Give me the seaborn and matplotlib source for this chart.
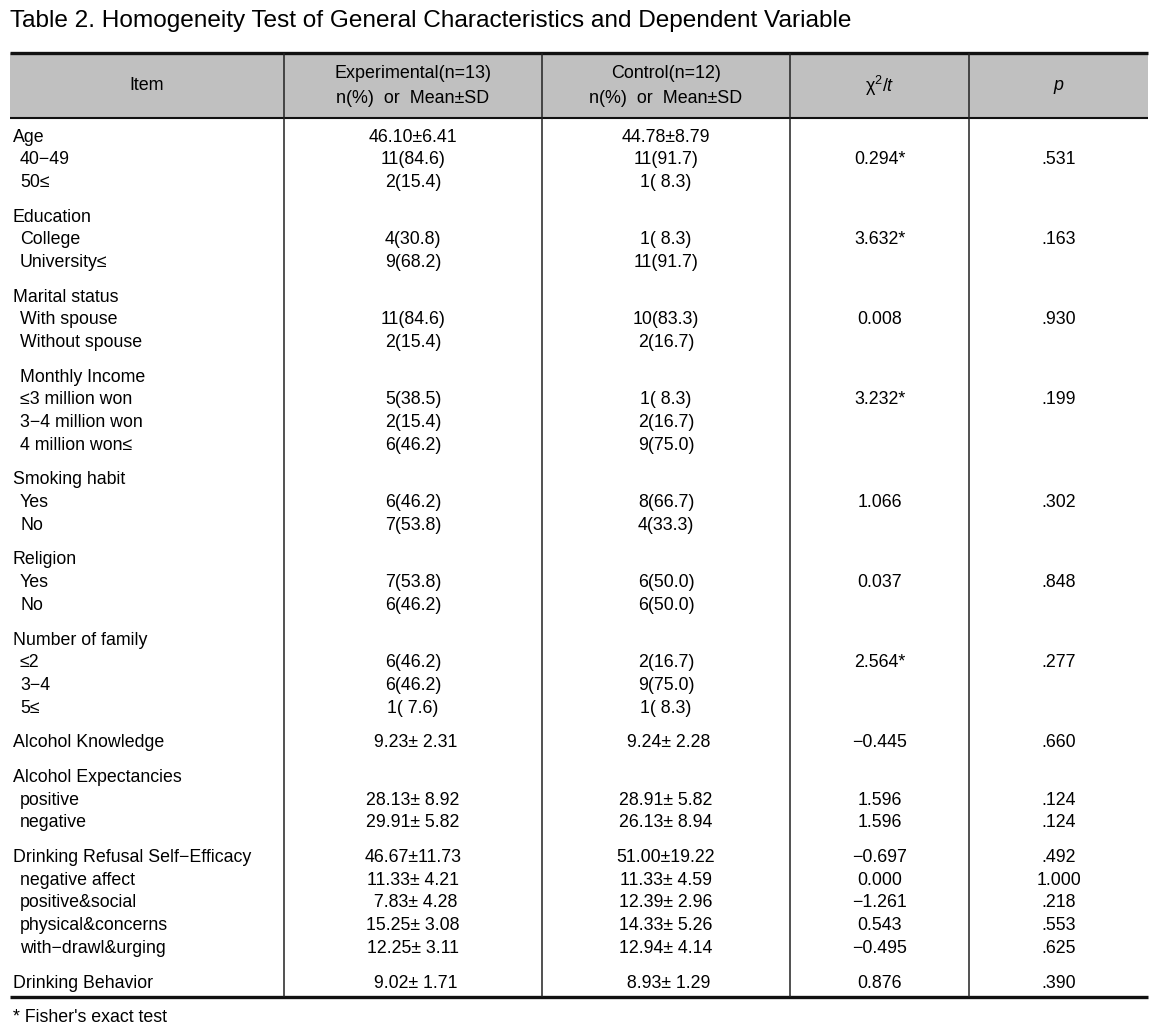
import matplotlib
matplotlib.use('Agg')
import numpy as np
import pandas as pd
import matplotlib.pyplot as plt
import seaborn as sns

# --- table content ---
title = 'Table 2. Homogeneity Test of General Characteristics and Dependent Variable'
footnote = "* Fisher's exact test"

items = ['Age', '40−49', '50≤',
         'Education', 'College', 'University≤',
         'Marital status', 'With spouse', 'Without spouse',
         'Monthly Income', '≤3 million won', '3−4 million won', '4 million won≤',
         'Smoking habit', 'Yes', 'No',
         'Religion', 'Yes', 'No',
         'Number of family', '≤2', '3−4', '5≤',
         'Alcohol Knowledge',
         'Alcohol Expectancies', 'positive', 'negative',
         'Drinking Refusal Self−Efficacy', 'negative affect', 'positive&social',
         'physical&concerns', 'with−drawl&urging',
         'Drinking Behavior']
level = [0, 1, 1, 0, 1, 1, 0, 1, 1, 1, 1, 1, 1, 0, 1, 1, 0, 1, 1,
         0, 1, 1, 1, 0, 0, 1, 1, 0, 1, 1, 1, 1, 0]
group = [0, 0, 0, 1, 1, 1, 2, 2, 2, 3, 3, 3, 3, 4, 4, 4, 5, 5, 5,
         6, 6, 6, 6, 7, 8, 8, 8, 9, 9, 9, 9, 9, 10]

exp_vals = ['46.10±6.41', '11(84.6)', '2(15.4)',
            '', '4(30.8)', '9(68.2)',
            '', '11(84.6)', '2(15.4)',
            '', '5(38.5)', '2(15.4)', '6(46.2)',
            '', '6(46.2)', '7(53.8)',
            '', '7(53.8)', '6(46.2)',
            '', '6(46.2)', '6(46.2)', '1( 7.6)',
            ' 9.23± 2.31',
            '', '28.13± 8.92', '29.91± 5.82',
            '46.67±11.73', '11.33± 4.21', ' 7.83± 4.28', '15.25± 3.08', '12.25± 3.11',
            ' 9.02± 1.71']
ctrl_vals = ['44.78±8.79', '11(91.7)', '1( 8.3)',
             '', '1( 8.3)', '11(91.7)',
             '', '10(83.3)', '2(16.7)',
             '', '1( 8.3)', '2(16.7)', '9(75.0)',
             '', '8(66.7)', '4(33.3)',
             '', '6(50.0)', '6(50.0)',
             '', '2(16.7)', '9(75.0)', '1( 8.3)',
             ' 9.24± 2.28',
             '', '28.91± 5.82', '26.13± 8.94',
             '51.00±19.22', '11.33± 4.59', '12.39± 2.96', '14.33± 5.26', '12.94± 4.14',
             ' 8.93± 1.29']
stat_vals = ['', '0.294*', '',
             '', '3.632*', '',
             '', '0.008', '',
             '', '3.232*', '', '',
             '', '1.066', '',
             '', '0.037', '',
             '', '2.564*', '', '',
             '−0.445',
             '', '1.596', '1.596',
             '−0.697', '0.000', '−1.261', '0.543', '−0.495',
             '0.876']
p_vals = ['', '.531', '',
          '', '.163', '',
          '', '.930', '',
          '', '.199', '', '',
          '', '.302', '',
          '', '.848', '',
          '', '.277', '', '',
          '.660',
          '', '.124', '.124',
          '.492', '1.000', '.218', '.553', '.625',
          '.390']

df = pd.DataFrame({'item': items, 'level': level, 'group': group,
                   'exp': exp_vals, 'ctrl': ctrl_vals,
                   'stat': stat_vals, 'p': p_vals})

# --- layout (pixels) ---
W, H = 1167, 1035
col_edges = [10, 284, 542, 790, 969, 1148]
top_y, head_y, bottom_y = 53, 118, 997
row0, step, gap = 137, 22.7, 11.96
df['y'] = row0 + np.arange(len(df)) * step + df['group'] * gap

sns.set_theme(style='white')
body_font = ['Liberation Sans', 'DejaVu Sans']
head_font = ['Liberation Sans Narrow', 'Liberation Sans', 'DejaVu Sans']
plt.rcParams['font.family'] = body_font
plt.rcParams['text.color'] = 'black'
plt.rcParams['mathtext.fontset'] = 'custom'
plt.rcParams['mathtext.it'] = 'Liberation Sans:italic'
plt.rcParams['mathtext.rm'] = 'Liberation Sans'

fig = plt.figure(figsize=(W / 100, H / 100), dpi=100)
ax = fig.add_axes([0, 0, 1, 1])
ax.set_xlim(0, W)
ax.set_ylim(H, 0)
ax.axis('off')
fig.canvas.draw()
renderer = fig.canvas.get_renderer()


def fit_size(text, width, family):
    t = ax.text(0, 0, text, fontsize=12, family=family)
    w = t.get_window_extent(renderer).width
    t.remove()
    return 12 * width / w


title_fs = fit_size(title, 845, body_font)
body_fs = fit_size('Drinking Refusal Self−Efficacy', 238, body_font)
head_fs = fit_size('Experimental(n=13)', 140, head_font) * 1.12

# title
ax.text(10, 21, title, fontsize=title_fs, va='center', ha='left')

# header band
ax.fill_between([col_edges[0], col_edges[-1]], top_y, head_y, color='#c0c0c0', lw=0)

centers = [(a + b) / 2 for a, b in zip(col_edges[:-1], col_edges[1:])]
hc = (top_y + head_y) / 2
ax.text(centers[0], hc, 'Item', fontsize=head_fs, family=head_font, ha='center', va='center')
ax.text(centers[1], hc - 12, 'Experimental(n=13)', fontsize=head_fs, family=head_font,
        ha='center', va='center')
ax.text(centers[1], hc + 13, 'n(%)  or  Mean±SD', fontsize=head_fs, family=head_font,
        ha='center', va='center')
ax.text(centers[2], hc - 12, 'Control(n=12)', fontsize=head_fs, family=head_font,
        ha='center', va='center')
ax.text(centers[2], hc + 13, 'n(%)  or  Mean±SD', fontsize=head_fs, family=head_font,
        ha='center', va='center')
ax.text(centers[3], hc, 'χ$^{2}$/$t$', fontsize=head_fs, family=head_font,
        ha='center', va='center')
ax.text(centers[4], hc, 'p', fontsize=head_fs, family=head_font, style='italic',
        ha='center', va='center')

# body rows
for _, r in df.iterrows():
    x = col_edges[0] + 3 + 7 * r['level']
    ax.text(x, r['y'], r['item'], fontsize=body_fs, ha='left', va='center')
    for c, key in zip(centers[1:], ['exp', 'ctrl', 'stat', 'p']):
        if r[key]:
            ax.text(c, r['y'], r[key], fontsize=body_fs, ha='center', va='center')

# rules
ax.hlines(top_y, col_edges[0], col_edges[-1], color='#111111', lw=2.4)
ax.hlines(head_y, col_edges[0], col_edges[-1], color='#111111', lw=1.5)
ax.hlines(bottom_y, col_edges[0], col_edges[-1], color='#111111', lw=2.4)
ax.vlines(col_edges[1:-1], top_y, bottom_y, color='#222222', lw=1.1)

ax.text(13, 1017, footnote, fontsize=body_fs, ha='left', va='center')

fig.savefig('out.png', dpi=100)
